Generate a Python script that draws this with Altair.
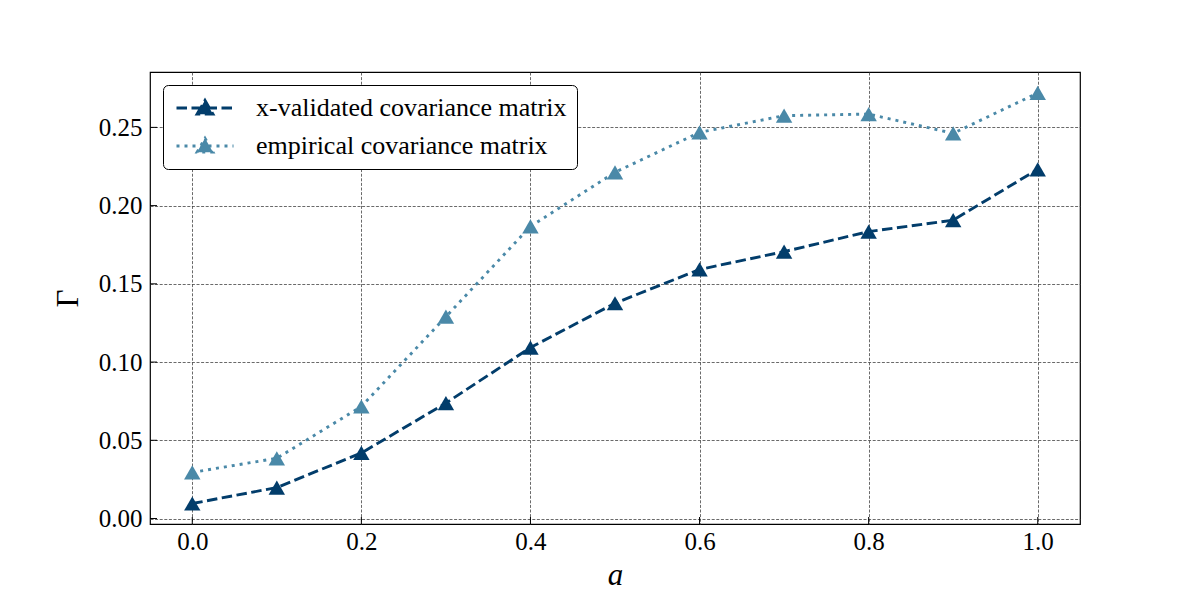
import altair as alt
import pandas as pd

a_values = [0.0, 0.1, 0.2, 0.3, 0.4, 0.5, 0.6, 0.7, 0.8, 0.9, 1.0]
xval_gamma = [0.0096, 0.0198, 0.0419, 0.0738, 0.1093, 0.1376, 0.1592, 0.1706, 0.1834, 0.1907, 0.2232]
emp_gamma = [0.0295, 0.0385, 0.0716, 0.1290, 0.1867, 0.2213, 0.2468, 0.2575, 0.2585, 0.2462, 0.2720]
series_names = ["x-validated covariance matrix", "empirical covariance matrix"]
series_colors = ["#023d6b", "#4a89a8"]
x_ticks = [0.0, 0.2, 0.4, 0.6, 0.8, 1.0]
y_ticks = [0.00, 0.05, 0.10, 0.15, 0.20, 0.25]

rows = []
for a, g in zip(a_values, xval_gamma):
    rows.append({"a": a, "gamma": g, "series": series_names[0]})
for a, g in zip(a_values, emp_gamma):
    rows.append({"a": a, "gamma": g, "series": series_names[1]})
df = pd.DataFrame(rows)

W, H = 930, 452
FONT = "Liberation Serif"

xs = alt.Scale(domain=[-0.05, 1.05], nice=False, zero=False)
ys = alt.Scale(domain=[-0.0035, 0.2854], nice=False, zero=False)

legend = alt.Legend(
    title=None, orient="top-left", offset=13,
    fillColor="white", strokeColor="black", cornerRadius=5, padding=10,
    labelFont=FONT, labelFontSize=26, labelColor="black", labelLimit=600,
    symbolType="M-2.85,0H2.85M-0.8,0.62L0,-0.78L0.8,0.62Z",
    symbolSize=400, symbolStrokeWidth=2.8, symbolOffset=19, labelOffset=38,
    rowPadding=11,
)

color = alt.Color("series:N", scale=alt.Scale(domain=series_names, range=series_colors), legend=legend)
dash = alt.StrokeDash("series:N", scale=alt.Scale(domain=series_names, range=[[10.5, 4.5], [3, 5]]), legend=legend)

base = alt.Chart(df).encode(
    x=alt.X("a:Q", scale=xs, axis=alt.Axis(values=x_ticks, format=".1f", title="a")),
    y=alt.Y("gamma:Q", scale=ys, axis=alt.Axis(values=y_ticks, format=".2f", title="Γ")),
)

lines = base.mark_line(strokeWidth=2.9).encode(color=color, strokeDash=dash)
points = base.mark_point(shape="triangle-up", filled=True, size=270, opacity=1).encode(color=color)

ytick_df = pd.DataFrame({"v": y_ticks})
xtick_df = pd.DataFrame({"v": x_ticks})
yt = alt.Chart(ytick_df).mark_rule(color="black", strokeWidth=1).encode(
    y=alt.Y("v:Q", scale=ys), x=alt.value(0), x2=alt.value(7))
xt = alt.Chart(xtick_df).mark_rule(color="black", strokeWidth=1).encode(
    x=alt.X("v:Q", scale=xs), y=alt.value(H), y2=alt.value(H - 7))

chart = alt.layer(lines, points, yt, xt).properties(
    width=W, height=H,
    autosize=alt.AutoSizeParams(type="none"),
    padding={"left": 150, "top": 72, "right": 120, "bottom": 76},
).configure_view(
    stroke="black", strokeWidth=1.2
).configure_axis(
    grid=True, gridColor="#444444", gridDash=[3, 1.6], gridWidth=0.8,
    domain=False, ticks=False,
    labelFont=FONT, labelFontSize=25, labelColor="black",
    titleFont=FONT, titleFontSize=31, titleColor="black", titleFontWeight="normal",
).configure_axisX(
    labelPadding=5, titlePadding=6, titleFontStyle="italic",
).configure_axisY(
    labelPadding=8, titlePadding=14,
)

chart.save("out.html", embed_options={"renderer": "svg", "actions": False})
